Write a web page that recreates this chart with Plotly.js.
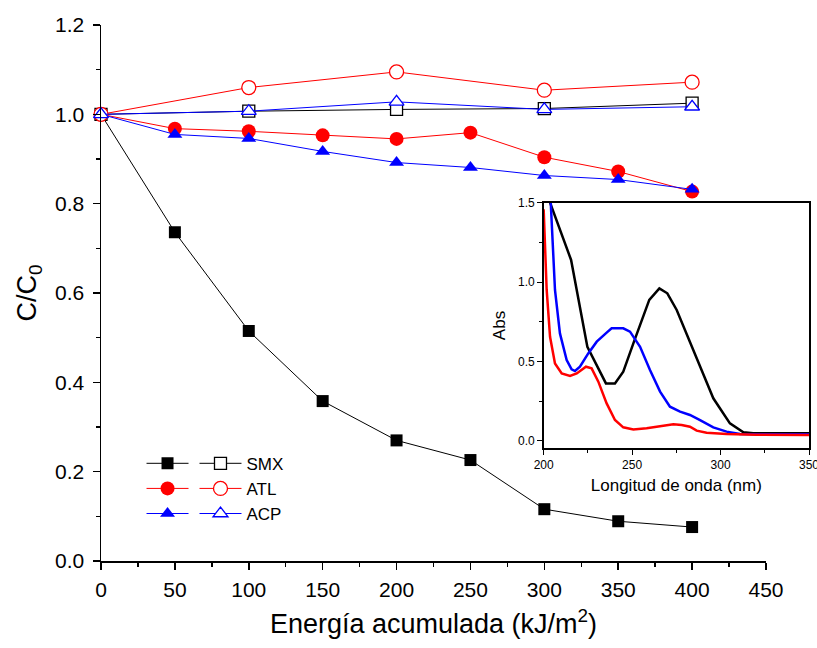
<!DOCTYPE html>
<html><head><meta charset="utf-8">
<script src="https://cdn.plot.ly/plotly-3.0.1.min.js"></script>
<style>body{margin:0;background:#fff}</style></head>
<body><div id="chart" style="width:817px;height:648px"></div>
<script>
// Main chart data
const energyFull = [0,50,100,150,200,250,300,350,400];
const energyOpen = [0,100,200,300,400];
const smxFilled = [1.0,0.736,0.515,0.358,0.270,0.226,0.116,0.089,0.076];
const smxOpen   = [1.0,1.007,1.011,1.013,1.025];
const atlFilled = [1.0,0.968,0.962,0.953,0.945,0.959,0.904,0.872,0.827];
const atlOpen   = [1.0,1.060,1.095,1.054,1.072];
const acpFilled = [1.0,0.955,0.946,0.917,0.892,0.881,0.863,0.854,0.832];
const acpOpen   = [1.0,1.007,1.028,1.011,1.017];
const seriesNames = ['SMX','ATL','ACP'];

// Inset spectra
const wlSMX  = [200,203.6,215.5,224.7,235.2,240.3,245,250.7,259.7,265.4,269.9,275.2,280.8,288.4,295.9,305.3,312.9,318.5,330,350];
const absSMX = [1.61,1.50,1.139,0.592,0.361,0.361,0.435,0.613,0.887,0.960,0.929,0.824,0.676,0.477,0.267,0.109,0.053,0.047,0.046,0.046];
const wlACP  = [202,204,206.4,209.2,213,215.8,217.7,220.5,225.2,230,235.6,238.4,245,248.8,254.5,260.1,265.8,271.4,277.1,282.7,288.4,295.9,303.4,311,325,350];
const absACP = [1.70,1.50,0.95,0.676,0.508,0.450,0.439,0.466,0.550,0.624,0.681,0.708,0.708,0.687,0.592,0.445,0.309,0.214,0.183,0.162,0.130,0.084,0.057,0.042,0.040,0.040];
const wlATL  = [200,201.7,203.6,206.4,210.2,214.9,218.7,223.9,227.1,230.9,235.6,240.3,245,250.7,258.2,265.8,273.3,278,282.7,286.5,292.1,303.4,320,350];
const absATL = [1.458,0.95,0.655,0.487,0.424,0.408,0.424,0.466,0.456,0.372,0.235,0.130,0.084,0.071,0.078,0.092,0.103,0.099,0.088,0.063,0.050,0.042,0.038,0.036];
const insetXTicks = [200,250,300,350];
const insetYTicks = [0,0.5,1.0,1.5];

const FONT = '"Liberation Sans", Arial, sans-serif';
const RED = '#ff0000', BLUE = '#0000ff', BLACK = '#000000';

function mainTrace(x, y, color, symbol, size, filled, name, legend) {
  return {x: x, y: y, type: 'scatter', mode: 'lines+markers', cliponaxis: false,
    name: name, legend: legend, showlegend: true, line: {color: color, width: 1},
    marker: {symbol: symbol, size: size, color: filled ? color : '#ffffff',
      line: {color: color, width: filled ? 0 : 1.3}},
    xaxis: 'x', yaxis: 'y'};
}

const traces = [
  mainTrace(energyFull, smxFilled, BLACK, 'square', 12, true, ' ', 'legend'),
  mainTrace(energyFull, atlFilled, RED, 'circle', 14, true, ' ', 'legend'),
  mainTrace(energyFull, acpFilled, BLUE, 'triangle-up', 13, true, ' ', 'legend'),
  mainTrace(energyOpen, smxOpen, BLACK, 'square', 12, false, seriesNames[0], 'legend2'),
  mainTrace(energyOpen, atlOpen, RED, 'circle', 14, false, seriesNames[1], 'legend2'),
  mainTrace(energyOpen, acpOpen, BLUE, 'triangle-up', 13, false, seriesNames[2], 'legend2'),
  {x: wlSMX, y: absSMX, type:'scatter', mode:'lines', line:{color:BLACK,width:2.5}, xaxis:'x2', yaxis:'y2', showlegend:false},
  {x: wlACP, y: absACP, type:'scatter', mode:'lines', line:{color:BLUE,width:2.5}, xaxis:'x2', yaxis:'y2', showlegend:false},
  {x: wlATL, y: absATL, type:'scatter', mode:'lines', line:{color:RED,width:2.5}, xaxis:'x2', yaxis:'y2', showlegend:false}
];

const layout = {
  width: 817, height: 648, margin: {l: 101, r: 5, t: 25, b: 87},
  paper_bgcolor: '#ffffff', plot_bgcolor: 'rgba(0,0,0,0)', font: {family: FONT, color: BLACK},
  xaxis: {domain: [0, 0.9353], range: [0, 450], anchor: 'y',
    showline: true, linecolor: BLACK, linewidth: 1.5, zeroline: false, showgrid: false,
    ticks: 'outside', ticklen: 7, tickwidth: 1.5, tickcolor: BLACK, dtick: 50, tick0: 0,
    minor: {ticks: 'outside', ticklen: 4, tickwidth: 1.5, tickcolor: BLACK, dtick: 25, showgrid: false},
    tickfont: {size: 21, family: FONT}, ticklabelstandoff: 2,
    title: {text: 'Energía acumulada (kJ/m<sup>2</sup>)', font: {size: 27, family: FONT}, standoff: 14}},
  yaxis: {domain: [0, 1], range: [0, 1.2], anchor: 'x',
    showline: true, linecolor: BLACK, linewidth: 1.5, zeroline: false, showgrid: false,
    ticks: 'outside', ticklen: 7, tickwidth: 1.5, tickcolor: BLACK, dtick: 0.2, tick0: 0, tickformat: '.1f',
    minor: {ticks: 'outside', ticklen: 4, tickwidth: 1.5, tickcolor: BLACK, dtick: 0.1, showgrid: false},
    tickfont: {size: 21, family: FONT}, ticklabelstandoff: 4,
    title: {text: 'C/C<sub>0</sub>', font: {size: 27, family: FONT}, standoff: 10}},
  xaxis2: {domain: [0.6226, 0.9958], range: [200, 350], anchor: 'y2',
    showline: true, mirror: true, linecolor: BLACK, linewidth: 1.5, zeroline: false, showgrid: false,
    ticks: 'outside', ticklen: 5, tickwidth: 1, tickcolor: BLACK, tickvals: insetXTicks, ticktext: insetXTicks.map(String),
    ticklabeloverflow: 'allow',
    minor: {ticks: 'outside', ticklen: 3, tickwidth: 1, tickcolor: BLACK, tickvals: [225, 275, 325], showgrid: false},
    tickfont: {size: 12, family: FONT},
    title: {text: 'Longitud de onda (nm)', font: {size: 17, family: FONT}, standoff: 8}},
  yaxis2: {domain: [0.2103, 0.6685], range: [-0.048, 1.5], anchor: 'x2',
    showline: true, mirror: true, linecolor: BLACK, linewidth: 1.5, zeroline: false, showgrid: false,
    ticks: 'outside', ticklen: 5, tickwidth: 1, tickcolor: BLACK, tickvals: insetYTicks, tickformat: '.1f',
    minor: {ticks: 'outside', ticklen: 3, tickwidth: 1, tickcolor: BLACK, tickvals: [0.25, 0.75, 1.25], showgrid: false},
    tickfont: {size: 12, family: FONT},
    title: {text: 'Abs', font: {size: 17, family: FONT}, standoff: 8}},
  legend: {x: 0.057, y: 0.215, xanchor: 'left', yanchor: 'top', bgcolor: 'rgba(0,0,0,0)',
    itemwidth: 42, font: {size: 17, family: FONT}, traceorder: 'normal', tracegroupgap: 0},
  legend2: {x: 0.1315, y: 0.215, xanchor: 'left', yanchor: 'top', bgcolor: 'rgba(0,0,0,0)',
    itemwidth: 42, font: {size: 17, family: FONT}, traceorder: 'normal', tracegroupgap: 0}
};

Plotly.newPlot('chart', traces, layout, {displayModeBar: false, staticPlot: true});
</script>
</body></html>
